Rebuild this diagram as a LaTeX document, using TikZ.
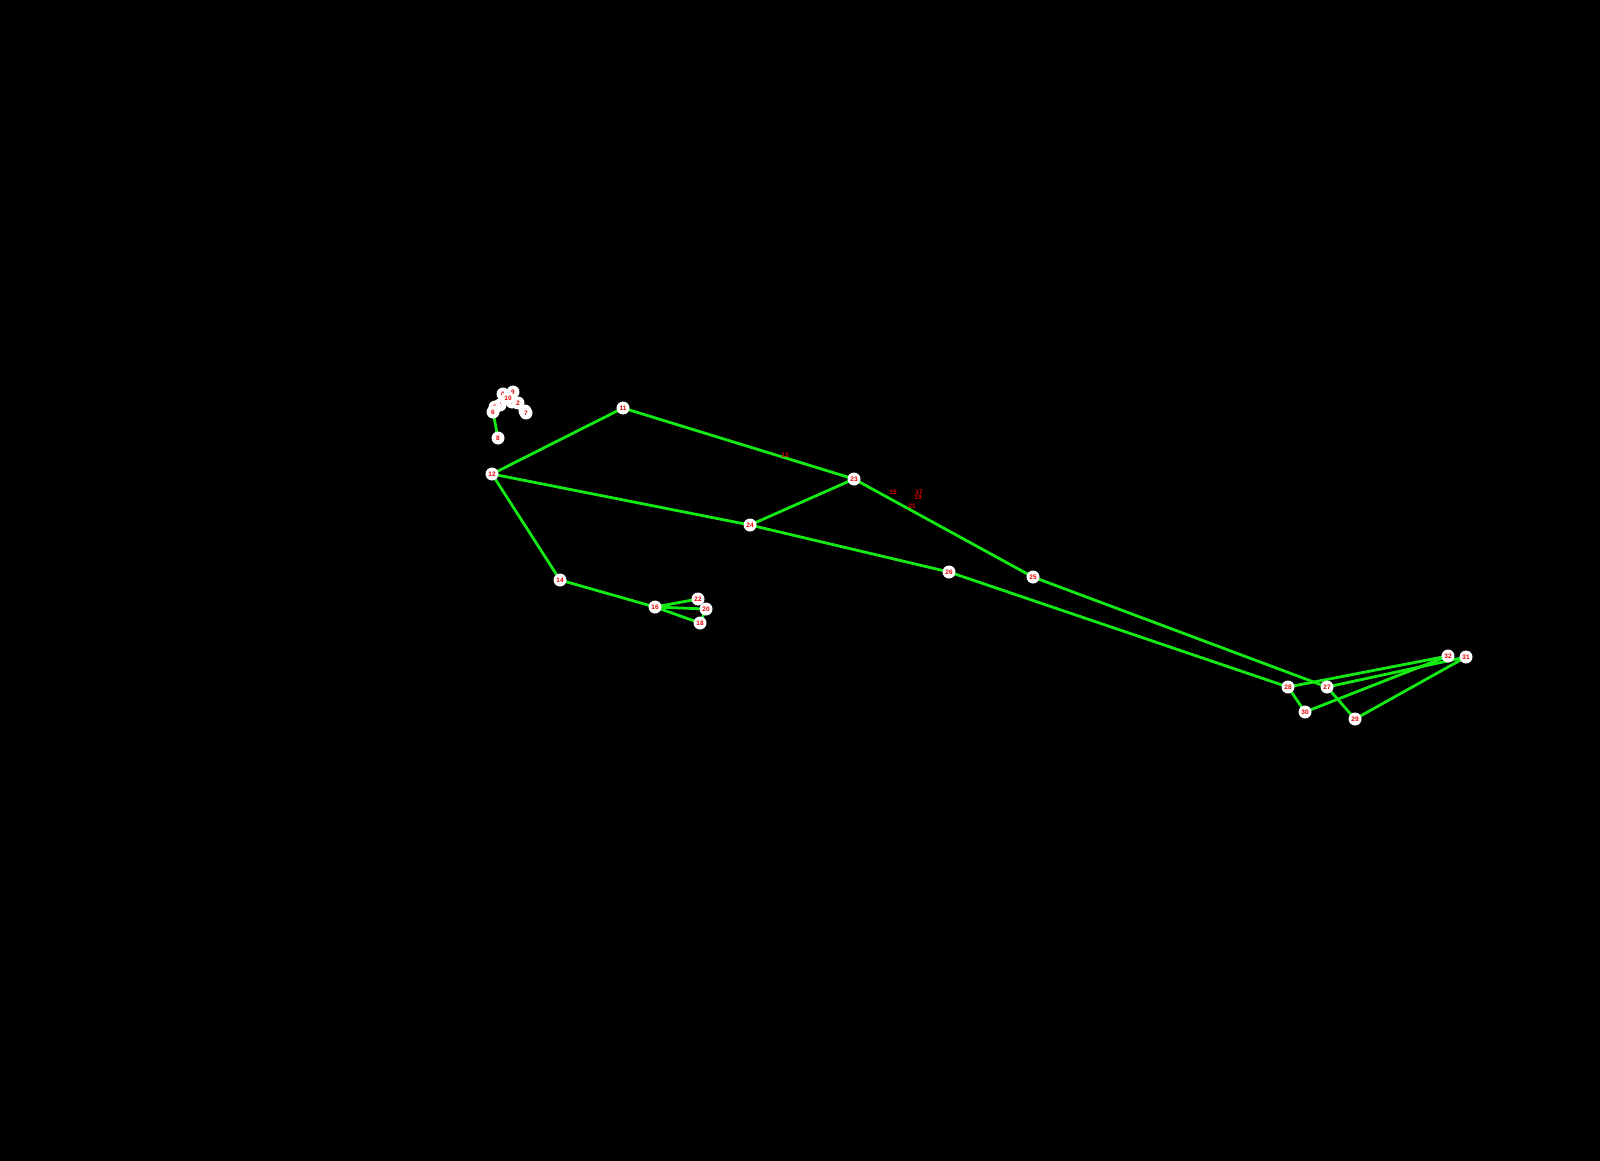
\documentclass[tikz,border=0pt]{standalone}
\usepackage{fontspec}
\setsansfont{Liberation Sans}
\definecolor{bone}{RGB}{20,235,20}
\definecolor{lbl}{RGB}{235,0,0}
\begin{document}
\begin{tikzpicture}[x=1pt,y=-1pt,
  bonestyle/.style={draw=bone,line width=2.8pt},
  jointstyle/.style={circle,fill=white,draw=none,minimum size=13pt,inner sep=0pt,
    text=lbl,font=\fontsize{6.5}{7}\selectfont\sffamily\bfseries},
  hiddenstyle/.style={inner sep=0pt,text=lbl,font=\fontsize{6.5}{7}\selectfont\sffamily\bfseries}]
\path[use as bounding box,fill=black] (0,0) rectangle (1600,1161);
% landmark positions
\coordinate (p0) at (503,394);
\coordinate (p1) at (512,402);
\coordinate (p2) at (518,403);
\coordinate (p3) at (525,411);
\coordinate (p4) at (500,405);
\coordinate (p5) at (495,407);
\coordinate (p6) at (493,412);
\coordinate (p7) at (526,413);
\coordinate (p8) at (498,438);
\coordinate (p9) at (513,392);
\coordinate (p10) at (508,398);
\coordinate (p11) at (623,408);
\coordinate (p12) at (492,474);
\coordinate (p13) at (785,455);
\coordinate (p14) at (560,580);
\coordinate (p15) at (893,492);
\coordinate (p16) at (655,607);
\coordinate (p17) at (919,492);
\coordinate (p18) at (700,623);
\coordinate (p19) at (918,497);
\coordinate (p20) at (706,609);
\coordinate (p21) at (912,506);
\coordinate (p22) at (698,599);
\coordinate (p23) at (854,479);
\coordinate (p24) at (750,525);
\coordinate (p25) at (1033,577);
\coordinate (p26) at (949,572);
\coordinate (p27) at (1327,687);
\coordinate (p28) at (1288,687);
\coordinate (p29) at (1355,719);
\coordinate (p30) at (1305,712);
\coordinate (p31) at (1466,657);
\coordinate (p32) at (1448,656);
% bones
\foreach \a/\b in {0/1,1/2,2/3,3/7,0/4,4/5,5/6,6/8,9/10,11/12,12/14,14/16,16/18,16/20,16/22,18/20,
  11/23,12/24,23/24,23/25,24/26,25/27,26/28,27/29,28/30,29/31,30/32,27/31,28/32}
  \draw[bonestyle] (p\a) -- (p\b);
% joints
\foreach \i in {0,1,2,3,4,5,6,7,8,9,10,11,12,14,16,18,20,22,23,24,25,26,27,28,29,30,31,32}
  \node[jointstyle] (n\i) at (p\i) {\i};
\foreach \i in {13,15,17,19,21}
  \node[hiddenstyle] (n\i) at (p\i) {\i};
\end{tikzpicture}
\end{document}
